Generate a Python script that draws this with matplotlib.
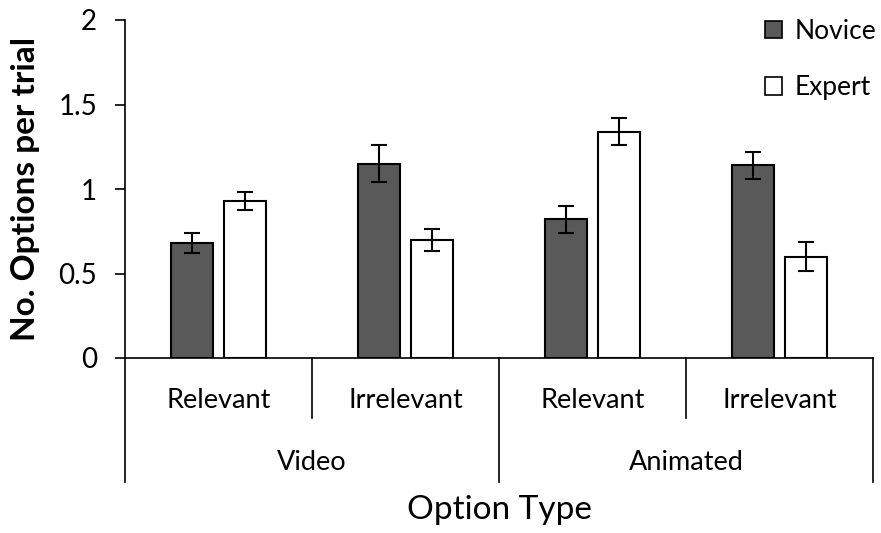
import matplotlib
matplotlib.use("Agg")
import matplotlib.pyplot as plt
import numpy as np
from matplotlib.patches import Patch

plt.rcParams['font.family'] = ['Lato', 'DejaVu Sans']

# Data
conditions = ["Video", "Animated"]
option_types = ["Relevant", "Irrelevant"]
novice_means = [0.68, 1.15, 0.82, 1.14]
novice_err = [0.06, 0.11, 0.08, 0.08]
expert_means = [0.93, 0.70, 1.34, 0.60]
expert_err = [0.055, 0.065, 0.08, 0.085]
series_labels = ["Novice", "Expert"]
y_ticks = [0, 0.5, 1, 1.5, 2]
y_tick_labels = ["0", "0.5", "1", "1.5", "2"]

fig = plt.figure(figsize=(8.81, 5.33), dpi=100)
ax = fig.add_axes([125/881, 1-358/533, (873-125)/881, (358-20)/533])

n = len(novice_means)
x = np.arange(n)
w = 0.225
off = 0.144
ekw = dict(elinewidth=1.5, capthick=1.5, capsize=6, ecolor='black')
ax.bar(x - off, novice_means, w, yerr=novice_err, color='#595959',
       edgecolor='black', linewidth=1.5, error_kw=ekw, zorder=2)
ax.bar(x + off, expert_means, w, yerr=expert_err, color='white',
       edgecolor='black', linewidth=1.5, error_kw=ekw, zorder=2)

ax.set_xlim(-0.5, n - 0.5)
ax.set_ylim(0, 2)
ax.set_yticks(y_ticks)
ax.set_yticklabels(y_tick_labels)
ax.tick_params(axis='y', direction='out', length=7, width=1.2,
               labelsize=20, pad=13, colors='black')
ax.set_xticks([])
for s in ['top', 'right']:
    ax.spines[s].set_visible(False)
ax.spines['left'].set_linewidth(1.2)
ax.spines['bottom'].set_linewidth(1.2)

ax.set_ylabel("No. Options per trial", fontsize=24, fontweight='bold')
ax.yaxis.set_label_coords(-0.113, 0.5)

# Hierarchical category axis
trans = ax.get_xaxis_transform()
ax_h = 358 - 20
minor_y = -(418 - 358) / ax_h
major_y = -(482 - 358) / ax_h
for i in range(n + 1):
    xb = i - 0.5
    bottom = major_y if i % 2 == 0 else minor_y
    ax.plot([xb, xb], [0, bottom], color='black', lw=1.2,
            transform=trans, clip_on=False)
for i in range(n):
    ax.text(i, -(400 - 358) / ax_h, option_types[i % 2], transform=trans,
            ha='center', va='center', fontsize=19.5)
for j, c in enumerate(conditions):
    ax.text(2 * j + 0.5, -(462 - 358) / ax_h, c, transform=trans,
            ha='center', va='center', fontsize=19.5)
fig.text(499/881, 1 - 510/533, "Option Type", ha='center', va='center',
         fontsize=24)

handles = [Patch(facecolor='#595959', edgecolor='black', linewidth=1.2),
           Patch(facecolor='white', edgecolor='black', linewidth=1.2)]
ax.legend(handles, series_labels, loc='upper right',
          bbox_to_anchor=(1.018, 1.035), frameon=False, fontsize=19,
          handlelength=0.65, handleheight=0.65, handletextpad=0.45,
          labelspacing=1.2, borderaxespad=0)

fig.savefig("out.png", dpi=100, facecolor='white')
